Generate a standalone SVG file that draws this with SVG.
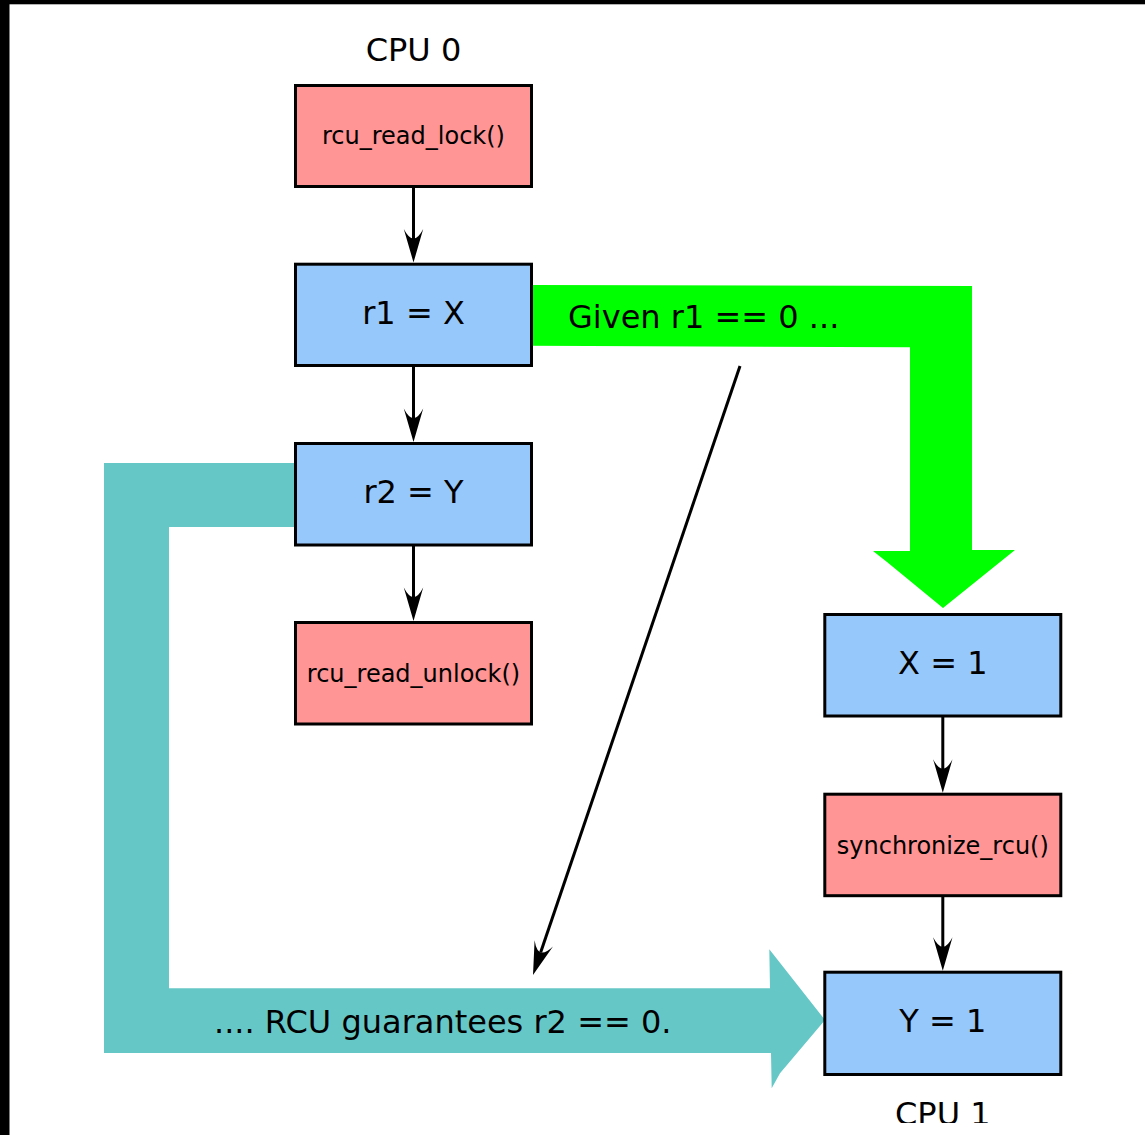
<svg xmlns="http://www.w3.org/2000/svg" xmlns:xlink="http://www.w3.org/1999/xlink" width="1145" height="1135" viewBox="0 0 1145 1135">
  <style>
    .pink { fill: #ff9595; stroke: #000; stroke-width: 3; }
    .blue { fill: #97c8fc; stroke: #000; stroke-width: 3; }
    .big { font-family: "DejaVu Sans", "Liberation Sans", sans-serif; font-size: 32px; fill: #000; }
    .small { font-family: "DejaVu Sans", "Liberation Sans", sans-serif; font-size: 24px; fill: #000; }
    .mid { text-anchor: middle; }
    .conn { stroke: #000; stroke-width: 3; fill: none; }
  </style>
  <defs>
    <path id="ah" d="M0,0 L9.7,-33.5 Q0,-14.5 -9.7,-33.5 Z" fill="#000"/>
    <clipPath id="clipBottom"><rect x="0" y="0" width="1145" height="1123"/></clipPath>
  </defs>
  <rect x="0" y="0" width="1145" height="1135" fill="#fff"/>
  <rect x="0" y="0" width="1145" height="4.3" fill="#000"/>
  <rect x="0" y="0" width="9.5" height="1135" fill="#000"/>

  <!-- big arrows -->
  <g id="bigarrows">
    <path id="green-arrow" d="M531,285 L972,286 L972,550 L1015,550 L943,608 L887,562 L873,551 L910,551 L910,347.3 L531,345.7 Z" fill="#00ff00"/>
    <path id="cyan-arrow" d="M296,463 L104,463 L104,1053 L771,1053 L771.7,1088.3 L780,1073.3 L825,1020 L769.3,949.3 L770,988.3 L169,988.3 L169,527 L296,527 Z" fill="#66c7c7"/>
    <text class="big" x="568" y="327.5">Given r1 == 0 ...</text>
    <text class="big" x="214" y="1032.7">.... RCU guarantees r2 == 0.</text>
  </g>

  <!-- connectors -->
  <g id="connectors">
    <line class="conn" x1="413.5" y1="187" x2="413.5" y2="239"/>
    <use xlink:href="#ah" transform="translate(413.5,262.5)"/>
    <line class="conn" x1="413.5" y1="366" x2="413.5" y2="418"/>
    <use xlink:href="#ah" transform="translate(413.5,442)"/>
    <line class="conn" x1="413.5" y1="545" x2="413.5" y2="597"/>
    <use xlink:href="#ah" transform="translate(413.5,621)"/>
    <line class="conn" x1="942.8" y1="716" x2="942.8" y2="769"/>
    <use xlink:href="#ah" transform="translate(942.8,792.7)"/>
    <line class="conn" x1="942.8" y1="895" x2="942.8" y2="947"/>
    <use xlink:href="#ah" transform="translate(942.8,970.7)"/>
    <line class="conn" x1="740" y1="366" x2="540.7" y2="952.3"/>
    <use xlink:href="#ah" transform="translate(533,975) rotate(18.77)"/>
  </g>

  <!-- CPU 0 nodes -->
  <text id="cpu0-label" class="big mid" x="413.5" y="61">CPU 0</text>
  <g id="rcu_read_lock">
    <rect class="pink" x="295.5" y="85.5" width="236" height="101"/>
    <text class="small mid" x="413.5" y="144">rcu_read_lock()</text>
  </g>
  <g id="r1_eq_X">
    <rect class="blue" x="295.5" y="264.2" width="236" height="101.3"/>
    <text class="big mid" x="413.5" y="323.5">r1 = X</text>
  </g>
  <g id="r2_eq_Y">
    <rect class="blue" x="295.5" y="443.5" width="236" height="101.5"/>
    <text class="big mid" x="413.5" y="502.5">r2 = Y</text>
  </g>
  <g id="rcu_read_unlock">
    <rect class="pink" x="295.5" y="622.5" width="236" height="101.5"/>
    <text class="small mid" x="413.5" y="681.5">rcu_read_unlock()</text>
  </g>

  <!-- CPU 1 nodes -->
  <g id="X_eq_1">
    <rect class="blue" x="824.8" y="614.5" width="236" height="101.5"/>
    <text class="big mid" x="942.8" y="673.5">X = 1</text>
  </g>
  <g id="synchronize_rcu">
    <rect class="pink" x="824.8" y="794.2" width="236" height="101.5"/>
    <text class="small mid" x="942.8" y="854">synchronize_rcu()</text>
  </g>
  <g id="Y_eq_1">
    <rect class="blue" x="824.8" y="972.2" width="236" height="102.3"/>
    <text class="big mid" x="942.8" y="1032">Y = 1</text>
  </g>
  <text id="cpu1-label" class="big mid" x="942.8" y="1125" clip-path="url(#clipBottom)">CPU 1</text>
</svg>
